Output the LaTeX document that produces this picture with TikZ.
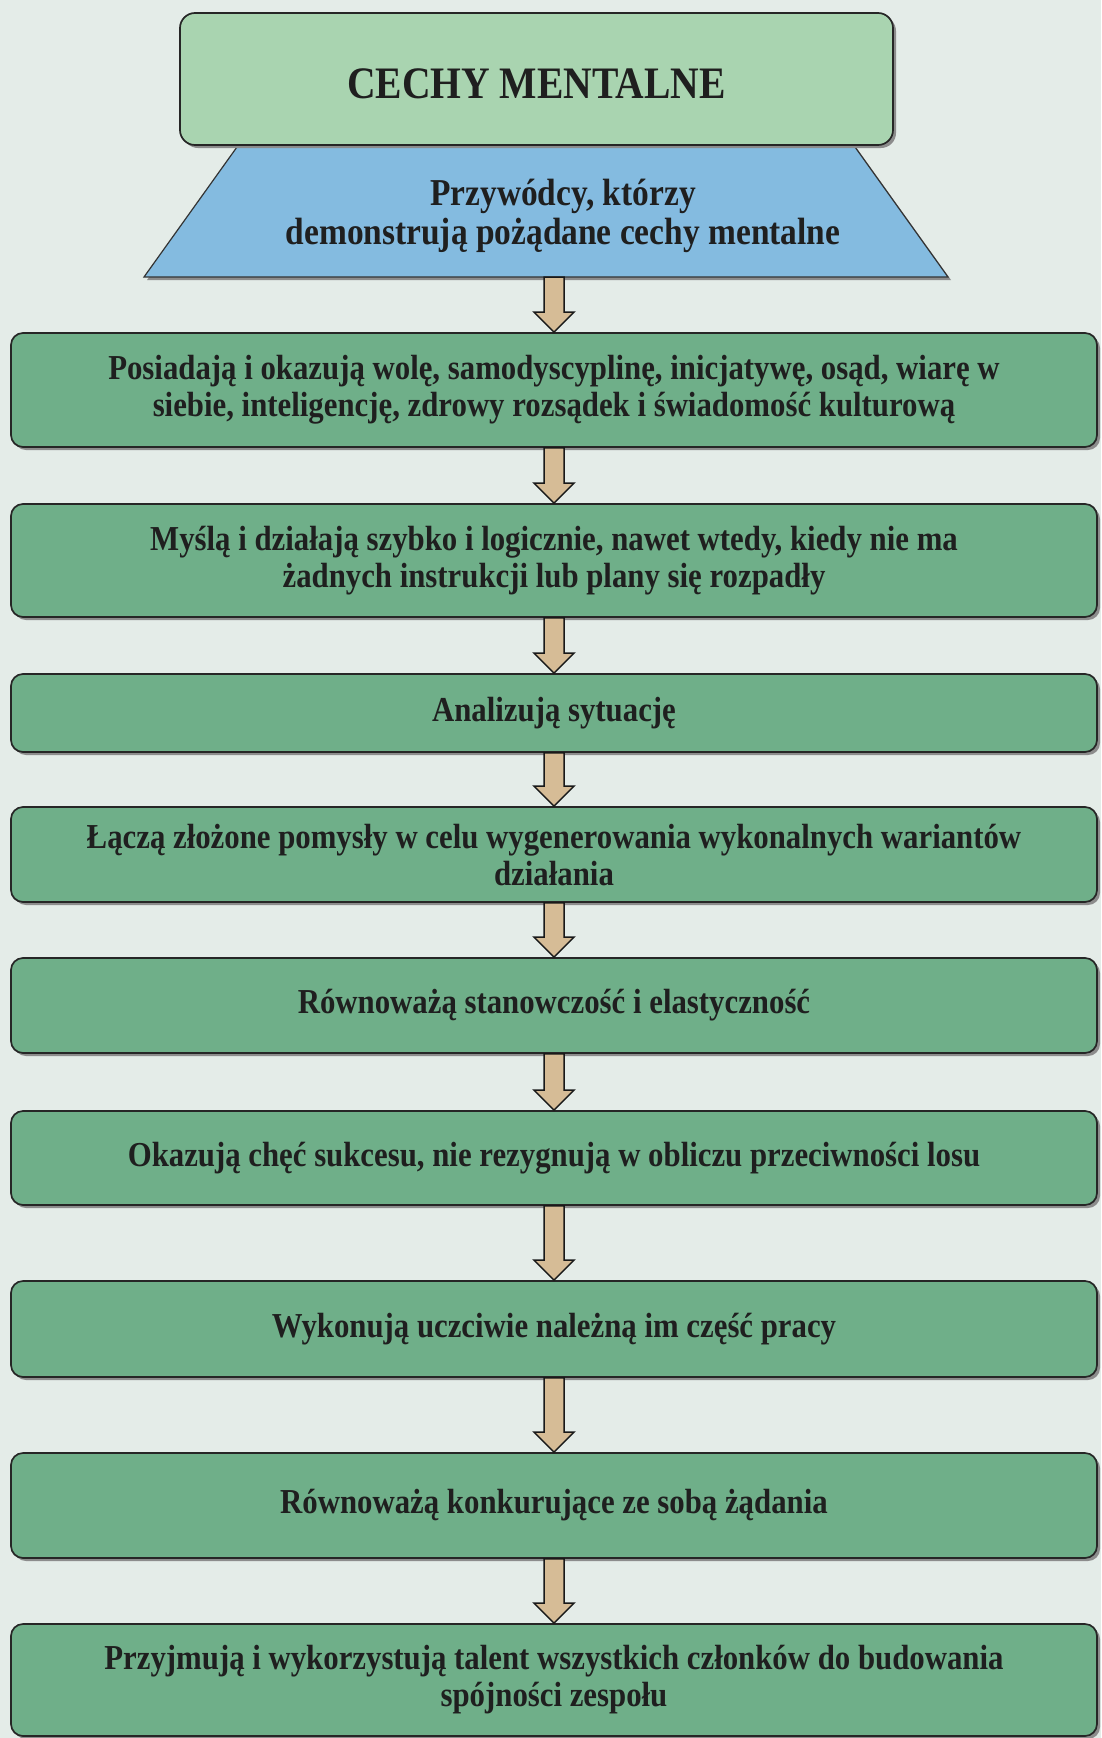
\documentclass[tikz,border=0pt]{standalone}
\usepackage{fontspec}
\setmainfont{Liberation Serif}[FakeStretch=0.88]
\usetikzlibrary{calc,shadows}
\definecolor{bgcol}{HTML}{E4ECE8}
\definecolor{boxgreen}{HTML}{6FAF89}
\definecolor{topgreen}{HTML}{A9D4B0}
\definecolor{trapblue}{HTML}{84BBE0}
\definecolor{arrowtan}{HTML}{D6BC96}
\definecolor{textcol}{HTML}{1F1F1F}

% filled block arrow from one anchor down to another
\newcommand\flowarrow[2]{%
  \path let \p1=(#1), \p2=(#2) in
    [arrowbody] (\x1-10pt,\y1) -- (\x1+10pt,\y1) -- (\x1+10pt,\y2+20pt)
    -- (\x1+20pt,\y2+20pt) -- (\x1,\y2) -- (\x1-20pt,\y2+20pt)
    -- (\x1-10pt,\y2+20pt) -- cycle;}

\begin{document}
\begin{tikzpicture}[
  x=1pt, y=-1pt,
  shade/.style     = {drop shadow={shadow xshift=3pt, shadow yshift=-3pt,
                      fill=black!45, opacity=1}},
  stepbox/.style   = {draw=black!85, line width=1.7pt, fill=boxgreen,
                      rounded corners=12pt, minimum width=1086pt,
                      align=center, text=textcol, shade,
                      font=\bfseries\fontsize{35}{37}\selectfont},
  topbox/.style    = {draw=black!85, line width=1.7pt, fill=topgreen,
                      rounded corners=15pt, minimum width=713pt,
                      minimum height=132pt, text=textcol, shade,
                      text height=38pt, text depth=0pt,
                      font=\bfseries\fontsize{45}{50}\selectfont},
  trap/.style      = {draw=black!80, line width=1.2pt, fill=trapblue, shade},
  leadtext/.style  = {align=center, text=textcol,
                      font=\bfseries\fontsize{38}{39}\selectfont},
  arrowbody/.style = {draw=black!90, line width=1.5pt, fill=arrowtan}
]
\fill[bgcol] (0,0) rectangle (1101,1738);
\useasboundingbox (0,0) rectangle (1101,1738);

% header
\draw[trap] (242,140) -- (850,140) -- (948,277) -- (144,277) -- cycle;
\node[leadtext] (lead) at (563,216)
  {Przywódcy, którzy\\demonstrują pożądane cechy mentalne};
\node[topbox] (top) at (536.5,79) {CECHY MENTALNE};
\coordinate (trapbot) at (554,277);

% boxes
\node[stepbox, minimum height=114pt] (b1) at (554,390)
  {Posiadają i okazują wolę, samodyscyplinę, inicjatywę, osąd, wiarę w\\
   siebie, inteligencję, zdrowy rozsądek i świadomość kulturową};
\node[stepbox, minimum height=113pt] (b2) at (554,560.5)
  {Myślą i działają szybko i logicznie, nawet wtedy, kiedy nie ma\\
   żadnych instrukcji lub plany się rozpadły};
\node[stepbox, minimum height=78pt] (b3) at (554,713)
  {Analizują sytuację};
\node[stepbox, minimum height=95pt] (b4) at (554,854.5)
  {Łączą złożone pomysły w celu wygenerowania wykonalnych wariantów\\
   działania};
\node[stepbox, minimum height=95pt] (b5) at (554,1005.5)
  {Równoważą stanowczość i elastyczność};
\node[stepbox, minimum height=94pt] (b6) at (554,1158)
  {Okazują chęć sukcesu, nie rezygnują w obliczu przeciwności losu};
\node[stepbox, minimum height=96pt] (b7) at (554,1329)
  {Wykonują uczciwie należną im część pracy};
\node[stepbox, minimum height=105pt] (b8) at (554,1505.5)
  {Równoważą konkurujące ze sobą żądania};
\node[stepbox, minimum height=112pt] (b9) at (554,1680)
  {Przyjmują i wykorzystują talent wszystkich członków do budowania\\
   spójności zespołu};

% arrows
\flowarrow{trapbot}{b1.north}
\foreach \a/\b in {b1/b2, b2/b3, b3/b4, b4/b5, b5/b6, b6/b7, b7/b8, b8/b9}
  \flowarrow{\a.south}{\b.north};
\end{tikzpicture}
\end{document}
